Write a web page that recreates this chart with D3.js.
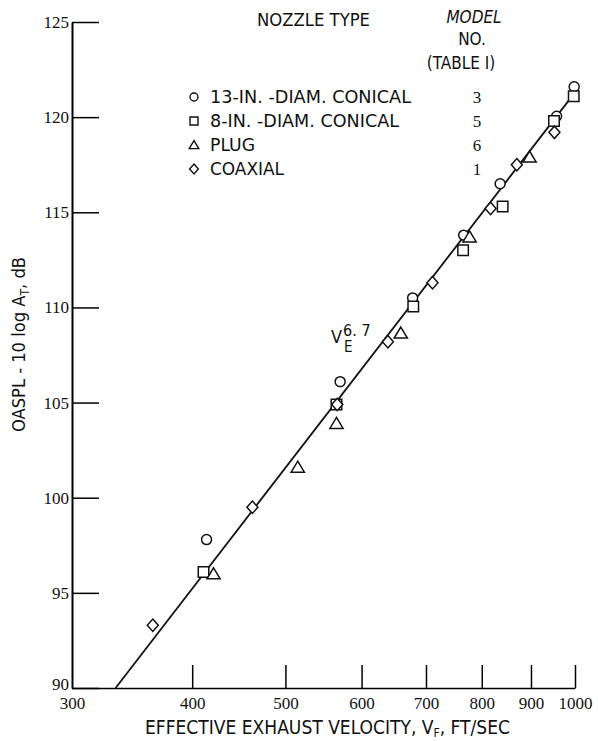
<!DOCTYPE html>
<html>
<head>
<meta charset="utf-8">
<script src="https://cdn.jsdelivr.net/npm/d3@7"></script>
<style>
  body { margin: 0; background: #fff; }
  text { fill: #111; }
  .sans { font-family: "Liberation Sans Narrow", "DejaVu Sans Condensed", "Liberation Sans", sans-serif; }
  .tick text { font-family: "Liberation Serif", serif; font-size: 17px; }
</style>
</head>
<body>
<div id="chart"></div>
<script>
// nozzle data (velocity ft/sec, OASPL - 10 log AT dB)
const conicalV = [414, 570, 678, 766, 836, 957, 998];
const conicalDb = [97.8, 106.1, 110.5, 113.8, 116.5, 120.05, 121.6];

const conical8V = [411, 565, 679, 765, 841, 951, 997];
const conical8Db = [96.1, 104.9, 110.05, 113.0, 115.3, 119.8, 121.1];

const plugV = [421, 515, 565, 659, 777, 897];
const plugDb = [96.0, 101.6, 103.9, 108.65, 113.7, 117.9];

const coaxV = [364, 462, 566, 639, 711, 817, 870, 952];
const coaxDb = [93.3, 99.5, 104.9, 108.2, 111.3, 115.2, 117.5, 119.2];

// V^6.7 fit line end points
const fitV = [333, 1000];
const fitDb = [90, 121.3];

const xTicks = [300, 400, 500, 600, 700, 800, 900, 1000];
const yTicks = [90, 95, 100, 105, 110, 115, 120, 125];

const legendNames = ["13-IN. -DIAM. CONICAL", "8-IN. -DIAM. CONICAL", "PLUG", "COAXIAL"];
const legendModels = ["3", "5", "6", "1"];
const legendSymbols = ["circle", "square", "triangle", "diamond"];

const width = 598, height = 741;

const x = d3.scaleLog().domain([300, 1000]).range([72, 575]);
const y = d3.scaleLinear().domain([90, 125]).range([688, 22]);

const svg = d3.select("#chart")
  .append("svg")
  .attr("width", width)
  .attr("height", height);

// marker shapes
function symbolPath(type, s) {
  if (type === "circle") return d3.symbol(d3.symbolCircle, s * s * 0.78)();
  if (type === "square") return d3.symbol(d3.symbolSquare, s * s)();
  if (type === "triangle") return `M0,${-s * 0.55}L${s * 0.6},${s * 0.45}L${-s * 0.6},${s * 0.45}Z`;
  return `M0,${-s * 0.62}L${s * 0.55},0L0,${s * 0.62}L${-s * 0.55},0Z`;
}

// axes
const yAxis = svg.append("g")
  .attr("transform", "translate(" + x(300) + ",0)")
  .call(d3.axisLeft(y).tickValues(yTicks).tickSizeInner(-27).tickSizeOuter(0).tickPadding(3).tickFormat(d3.format("d")));
yAxis.select(".domain").attr("stroke-width", 2);
yAxis.selectAll(".tick line").attr("stroke-width", 1.5);
yAxis.selectAll(".tick text").filter(d => d === 90).attr("dy", "0.1em");

const xAxis = svg.append("g")
  .attr("transform", "translate(0," + y(90) + ")")
  .call(d3.axisBottom(x).tickValues(xTicks).tickSizeInner(-23).tickSizeOuter(0).tickPadding(9).tickFormat(d3.format("d")));
xAxis.select(".domain").attr("stroke-width", 1.6);
xAxis.selectAll(".tick line").attr("stroke-width", 1.5)
  .filter(d => d === 300).remove();
xAxis.selectAll(".tick text").attr("dy", "0.71em");

// fit line
svg.append("path")
  .datum(d3.zip(fitV, fitDb))
  .attr("fill", "none")
  .attr("stroke", "#111")
  .attr("stroke-width", 1.8)
  .attr("d", d3.line().x(d => x(d[0])).y(d => y(d[1])));

// data points
const series = [
  [conicalV, conicalDb, "circle", 10],
  [conical8V, conical8Db, "square", 10.5],
  [plugV, plugDb, "triangle", 11],
  [coaxV, coaxDb, "diamond", 10]
];
series.forEach(([vs, dbs, type, s]) => {
  svg.append("g").selectAll("path")
    .data(d3.zip(vs, dbs))
    .enter().append("path")
    .attr("transform", d => "translate(" + x(d[0]) + "," + y(d[1]) + ")")
    .attr("d", symbolPath(type, s))
    .attr("fill", "#fff")
    .attr("stroke", "#111")
    .attr("stroke-width", 1.5);
});

// fit label, one text with super and subscript
const fitLabel = svg.append("text").attr("class", "sans").attr("x", 331).attr("y", 343).style("font-size", "18px");
fitLabel.append("tspan").text("V");
fitLabel.append("tspan").attr("dx", 1).attr("dy", -7).style("font-size", "16px").text("6. 7");
fitLabel.append("tspan").attr("x", 344).attr("dy", 16).style("font-size", "15px").text("E");

// legend
const legend = svg.append("g").attr("class", "sans").style("font-size", "17px");
legend.append("text").attr("x", 257).attr("y", 20).attr("dy", "0.35em").attr("textLength", 113).attr("lengthAdjust", "spacingAndGlyphs").text("NOZZLE TYPE");
legend.append("text").attr("x", 474).attr("y", 17).attr("dy", "0.35em").attr("text-anchor", "middle").style("font-style", "italic").text("MODEL");
legend.append("text").attr("x", 472).attr("y", 39).attr("dy", "0.35em").attr("text-anchor", "middle").text("NO.");
legend.append("text").attr("x", 461).attr("y", 63).attr("dy", "0.35em").attr("text-anchor", "middle").text("(TABLE I)");

const nameLen = [201, 189, 45, 74];
legendNames.forEach((name, i) => {
  const ly = 97 + i * 24;
  legend.append("path")
    .attr("transform", "translate(194," + ly + ")")
    .attr("d", symbolPath(legendSymbols[i], 8))
    .attr("fill", "none")
    .attr("stroke", "#111")
    .attr("stroke-width", 1.4);
  legend.append("text").attr("x", 210).attr("y", ly).attr("dy", "0.35em")
    .attr("textLength", nameLen[i]).attr("lengthAdjust", "spacingAndGlyphs").text(name);
  legend.append("text").attr("x", 477).attr("y", ly).attr("dy", "0.35em")
    .attr("text-anchor", "middle").style("font-family", "Liberation Serif, serif").text(legendModels[i]);
});

// axis titles
const xTitle = svg.append("text").attr("class", "sans").attr("x", 145).attr("y", 734)
  .style("font-size", "19px").attr("textLength", 365).attr("lengthAdjust", "spacingAndGlyphs");
xTitle.append("tspan").text("EFFECTIVE EXHAUST VELOCITY, V");
xTitle.append("tspan").attr("dy", 3).style("font-size", "12px").text("F");
xTitle.append("tspan").attr("dy", -3).text(", FT/SEC");

const yTitle = svg.append("text").attr("class", "sans")
  .attr("transform", "translate(25,432) rotate(-90)")
  .style("font-size", "18px").attr("textLength", 175).attr("lengthAdjust", "spacingAndGlyphs");
yTitle.append("tspan").text("OASPL - 10 log A");
yTitle.append("tspan").attr("dy", 4).style("font-size", "12px").text("T");
yTitle.append("tspan").attr("dy", -4).text(", dB");
</script>
</body>
</html>
